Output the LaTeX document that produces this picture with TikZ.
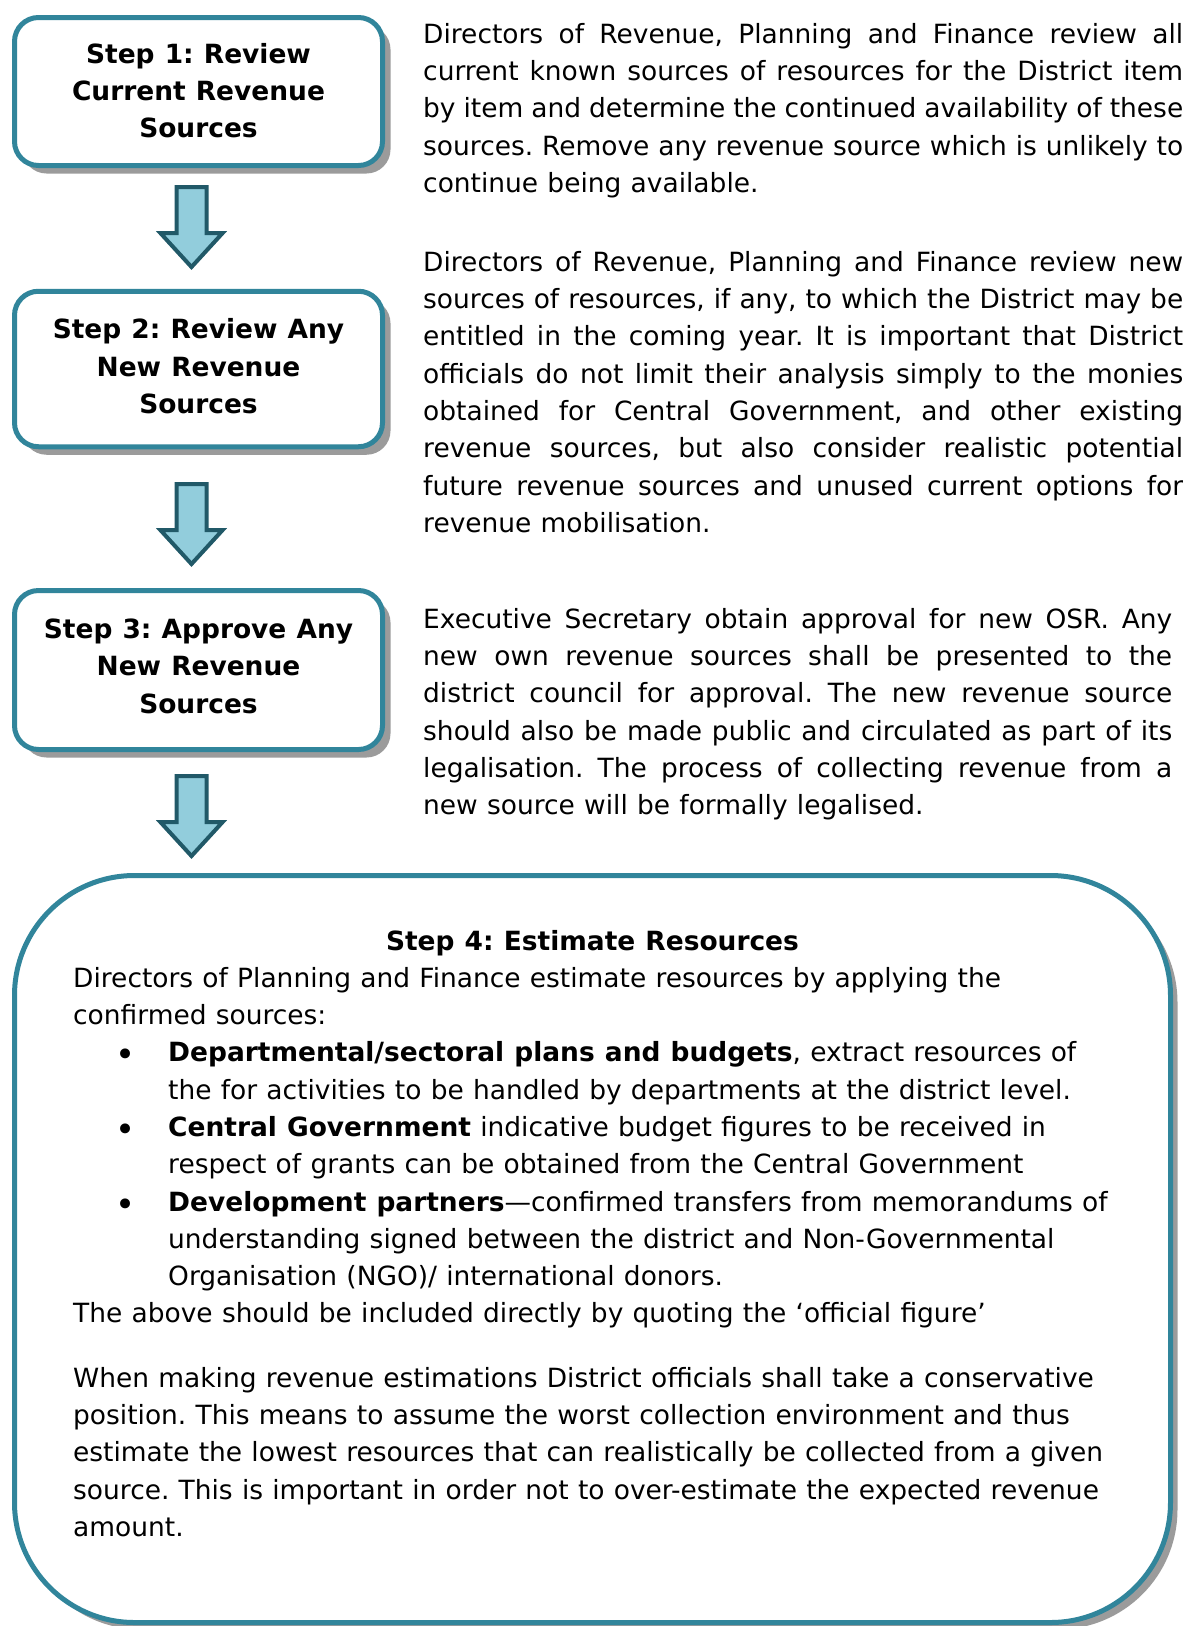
\documentclass[tikz,border=0pt]{standalone}
\usepackage{fontspec}
\setmainfont[WordSpace=1.1]{DejaVu Sans}
\usetikzlibrary{shapes.arrows,shadows}
\definecolor{boxteal}{RGB}{49,133,155}
\definecolor{arrowfill}{RGB}{146,205,220}
\definecolor{arrowline}{RGB}{33,89,104}
\definecolor{shadowgray}{RGB}{155,155,155}
\newcommand{\estitem}{\hspace*{42pt}\makebox[53pt][l]{\raisebox{-5pt}{\fontsize{34}{37.3}\selectfont •}}}
\newcommand{\estcont}{\hspace*{95pt}}
\frenchspacing

\begin{document}
\begin{tikzpicture}[x=1pt, y=-1pt]
\tikzstyle{stepbox} = [rectangle, rounded corners=24pt, draw=boxteal, line width=5pt, fill=white, minimum width=368pt, align=center, font=\fontsize{26.45}{37.3}\selectfont\bfseries, drop shadow={shadow xshift=8pt, shadow yshift=-8pt, fill=shadowgray, opacity=1}]
\tikzstyle{desc} = [anchor=north west, inner sep=0pt, align=justify, font=\fontsize{26.45}{37.3}\selectfont]
\tikzstyle{downarrow} = [single arrow, shape border rotate=270, draw=arrowline, fill=arrowfill, line width=4pt, inner sep=13pt, minimum height=80pt, single arrow head extend=16pt, single arrow tip angle=85, anchor=tail]
\useasboundingbox (0,0) rectangle (1183,1626);
% -----------------------------------
% Steps 1 to 3
\node[stepbox, minimum height=148pt, text depth=2pt] (step1) at (198.5,91.5) {Step 1: Review\\Current Revenue\\Sources};
\node[stepbox, minimum height=155.5pt, text depth=6pt] (step2) at (198.5,369) {Step 2: Review Any\\New Revenue\\Sources};
\node[stepbox, minimum height=159pt, text depth=8pt] (step3) at (198.5,670) {Step 3: Approve Any\\New Revenue\\Sources};

\node[downarrow] (arr1) at (191.5,185) {};
\node[downarrow] (arr2) at (191.5,482) {};
\node[downarrow] (arr3) at (191.5,774) {};

% -----------------------------------
% Descriptions
\node[desc, text width=760pt] (desc1) at (423,16.9) {\strut Directors of Revenue, Planning and Finance review all\linebreak current known sources of resources for the District item\linebreak by item and determine the continued availability of these\linebreak sources. Remove any revenue source which is unlikely to\linebreak continue being available.};
\node[desc, text width=760pt] (desc2) at (423,244.9) {\strut Directors of Revenue, Planning and Finance review new\linebreak sources of resources, if any, to which the District may be\linebreak entitled in the coming year. It is important that District\linebreak officials do not limit their analysis simply to the monies\linebreak obtained for Central Government, and other existing\linebreak revenue sources, but also consider realistic potential\linebreak future revenue sources and unused current options for\linebreak revenue mobilisation.};
\node[desc, text width=749pt] (desc3) at (423,601.9) {\strut Executive Secretary obtain approval for new OSR. Any\linebreak new own revenue sources shall be presented to the\linebreak district council for approval. The new revenue source\linebreak should also be made public and circulated as part of its\linebreak legalisation. The process of collecting revenue from a\linebreak new source will be formally legalised.};

% -----------------------------------
% Step 4
\node[rectangle, rounded corners=120pt, draw=boxteal, line width=5pt, fill=white, minimum width=1156pt, minimum height=747pt, drop shadow={shadow xshift=7pt, shadow yshift=-7pt, fill=shadowgray, opacity=1}] (step4) at (592.5,1249) {};
\node[anchor=base, font=\fontsize{26.45}{37.3}\selectfont\bfseries] (step4title) at (592.5,950) {Step 4: Estimate Resources};
\node[anchor=north west, inner sep=0pt, align=left, font=\fontsize{26.45}{37.3}\selectfont] (step4text) at (73,960.9) {\strut Directors of Planning and Finance estimate resources by applying the\\
confirmed sources:\\
\estitem\textbf{Departmental/sectoral plans and budgets}, extract resources of\\
\estcont the for activities to be handled by departments at the district level.\\
\estitem\textbf{Central Government} indicative budget figures to be received in\\
\estcont respect of grants can be obtained from the Central Government\\
\estitem\textbf{Development partners}---confirmed transfers from memorandums of\\
\estcont understanding signed between the district and Non-Governmental\\
\estcont Organisation (NGO)/ international donors.\\
The above should be included directly by quoting the `official figure'\\[27pt]
When making revenue estimations District officials shall take a conservative\\
position. This means to assume the worst collection environment and thus\\
estimate the lowest resources that can realistically be collected from a given\\
source. This is important in order not to over-estimate the expected revenue\\
amount.};
% -----------------------------------
\end{tikzpicture}
\end{document}
